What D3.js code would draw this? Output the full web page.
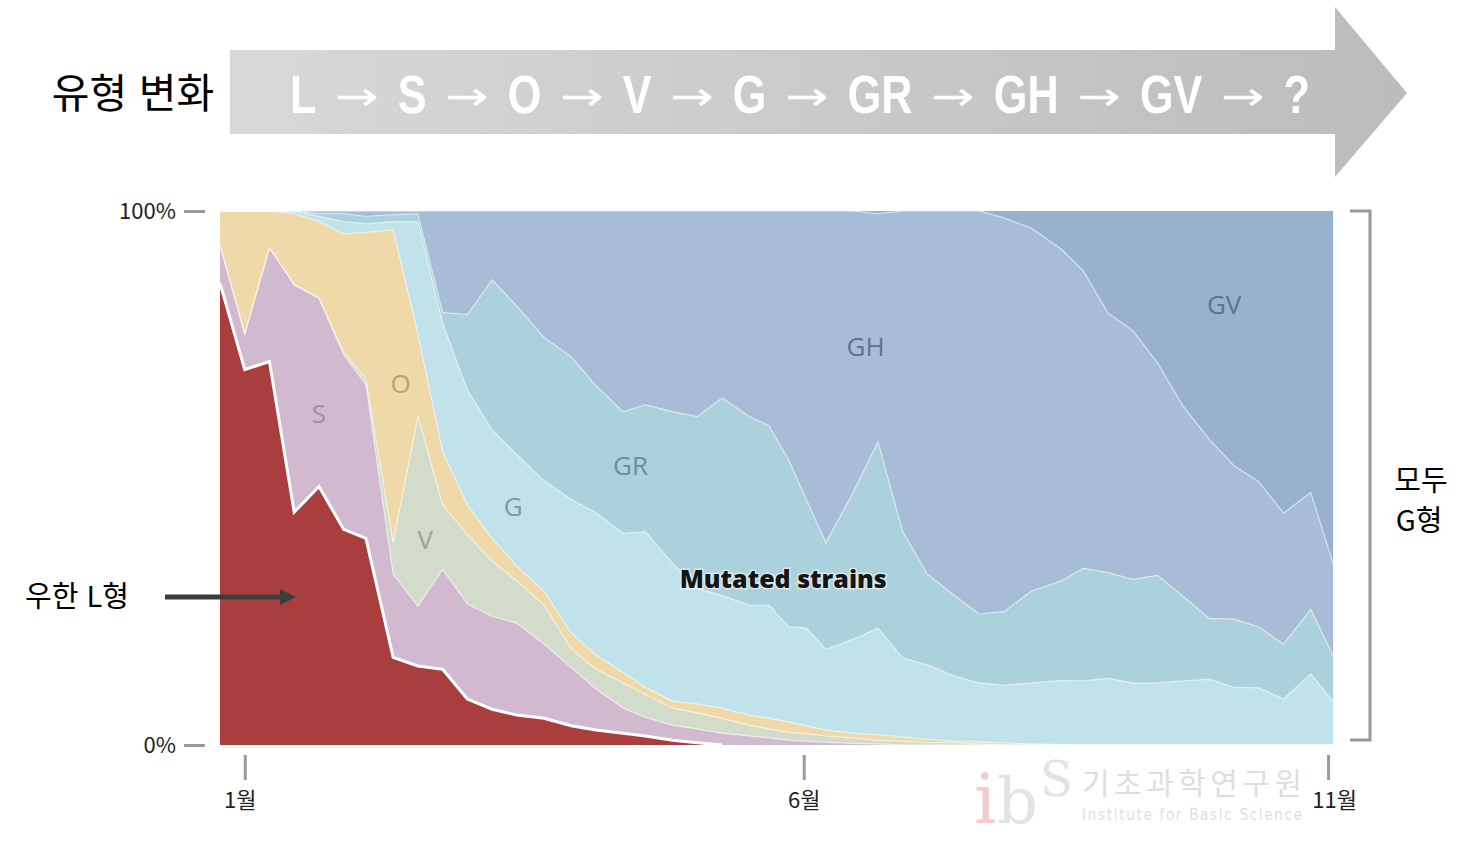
<!DOCTYPE html>
<html lang="ko">
<head>
<meta charset="utf-8">
<title>유형 변화</title>
<script src="https://cdn.jsdelivr.net/npm/d3@7"></script>
<style>
  body { margin: 0; background: #fff; }
  svg { display: block; }
</style>
</head>
<body>
<div id="chart"></div>
<script>
// sample points, in weeks from the start of the series
const weeks = [0, 1, 2, 3, 4, 5, 5.9, 7, 8, 9, 10, 11, 12, 13.1, 14.2, 15.2, 16.3, 17.2, 18.3, 19.3,
  20.3, 21.4, 22.2, 23, 23.7, 24.5, 25.6, 26.6, 27.6, 28.6, 29.7, 30.7, 31.7, 32.8, 34, 34.9,
  35.9, 36.9, 37.9, 38.9, 40, 41, 42, 43, 44.1, 45];

// share of each strain (%)
const shareL = [86.5, 70.3, 71.8, 43.6, 48.4, 40.4, 38.7, 16.4, 14.8, 14.2, 8.6, 6.7, 5.6, 5.0, 3.6,
  2.8, 2.2, 1.7, 0.9, 0.4, 0, 0, 0, 0, 0, 0, 0, 0, 0, 0, 0, 0, 0, 0, 0, 0, 0, 0, 0, 0, 0, 0, 0, 0, 0, 0];
const shareS = [7.1, 6.7, 21.3, 42.6, 35.3, 32.7, 28.8, 15.6, 11.2, 18.7, 17.8, 17.4, 17.2, 13.9, 10.9,
  7.7, 4.7, 3.5, 2.8, 2.6, 2.2, 1.7, 1.3, 0.9, 0.7, 0.5, 0.3, 0.2, 0, 0, 0, 0, 0, 0, 0, 0, 0, 0, 0, 0, 0, 0, 0, 0, 0, 0];
const shareV = [0, 0, 0, 0, 0, 0.5, 1, 5.9, 35.5, 12.1, 13, 10.3, 7.9, 7.3, 3.5,
  3.7, 4.7, 4.3, 3.2, 3.0, 2.8, 2.0, 1.7, 1.5, 1.4, 1.2, 1.0, 0.7, 0.7, 0.5, 0.4, 0.2, 0, 0, 0, 0, 0, 0, 0, 0, 0, 0, 0, 0, 0, 0];
const shareO = [6.4, 23, 6.9, 13.3, 14.3, 22.1, 27.5, 58.6, 15.5, 10, 5.6, 4.3, 2.8, 2.6, 3.0,
  2.6, 2.0, 1.3, 1.3, 1.7, 1.9, 1.9, 2.0, 1.9, 1.5, 1.1, 0.9, 1.0, 0.8, 0.6, 0.3, 0.4, 0.4, 0.2, 0.1, 0, 0, 0, 0, 0, 0, 0, 0, 0, 0, 0];
const shareG = [0, 0, 0, 0.5, 1, 2.3, 1.6, 1.5, 21, 24, 21.5, 20.3, 20.9, 20.7, 25,
  26.7, 26, 29.2, 25.8, 21.6, 21.1, 20.6, 21.2, 17.8, 18.3, 15.1, 17.6, 20, 14.8, 13.9,
  12.2, 11.0, 10.8, 11.4, 12, 12, 12.5, 11.6, 11.6, 12, 12.3, 10.8, 10.7, 8.6, 13.3, 8.2];
const shareGR = [0, 0, 0, 0, 0.5, 1.5, 1.4, 1.3, 1.5, 2, 14.1, 28.1, 27.8, 26.8, 26.7,
  23.8, 22.8, 23.7, 28.4, 32.2, 37, 35.3, 33.6, 31.2, 24.1, 20, 27.5, 34.9, 23.7, 17,
  15.1, 12.9, 13.8, 17.2, 18.6, 21.1, 19.8, 19.4, 20.2, 16, 11.4, 12.8, 11.4, 10.3, 12.1, 8.6];
const shareGH = [0, 0, 0, 0, 0.5, 0.5, 1, 0.7, 0.5, 19, 19.4, 12.9, 17.8, 23.7, 27.3,
  32.7, 37.6, 36.3, 37.6, 38.5, 35, 38.5, 40.2, 46.7, 54, 62.1, 52.7, 42.7, 60, 68,
  72, 75.5, 73.7, 68, 62.2, 55.7, 48.6, 46.6, 39.8, 35.7, 33.5, 28.7, 27.2, 24.5, 21.9, 17.2];
const shareGV = [0, 0, 0, 0, 0, 0, 0, 0, 0, 0, 0, 0, 0, 0, 0, 0, 0, 0, 0, 0, 0, 0, 0, 0, 0, 0, 0,
  0.5, 0, 0, 0, 0, 1.3, 3.2, 7.1, 11.2, 19.1, 22.4, 28.4, 36.3, 42.8, 47.7, 50.7, 56.6, 52.7, 66];

const strains = ["L", "S", "V", "O", "G", "GR", "GH", "GV"];
const strainShares = [shareL, shareS, shareV, shareO, shareG, shareGR, shareGH, shareGV];

const monthTicks = [1, 23.6, 44.8];
const monthLabels = ["1월", "6월", "11월"];
const flowTokens = ["L", "S", "O", "V", "G", "GR", "GH", "GV", "?"];

// in-chart labels (week, share)
const areaLabels = [
  { text: "S", week: 4.0, share: 0.62 },
  { text: "O", week: 7.3, share: 0.677 },
  { text: "V", week: 8.3, share: 0.385 },
  { text: "G", week: 11.85, share: 0.445 },
  { text: "GR", week: 16.6, share: 0.523 },
  { text: "GH", week: 26.1, share: 0.746 },
  { text: "GV", week: 40.6, share: 0.824 }
];

const colors = {
  L: "#a83e3e", S: "#d1bad0", V: "#d3dccb", O: "#f0d9a9",
  G: "#c0e2ea", GR: "#abd2dc", GH: "#a7bcd6", GV: "#98b2ce"
};
const labelColors = {
  S: "#a48ca5", O: "#b8a27c", V: "#9ca694", G: "#7b9ca7",
  GR: "#6b8e9b", GH: "#5d738f", GV: "#5d738f"
};

const width = 1472, height = 841;
const svg = d3.select("#chart").append("svg")
  .attr("width", width)
  .attr("height", height);

const x = d3.scaleLinear().domain([0, 45]).range([220, 1333]);
const y = d3.scaleLinear().domain([0, 1]).range([745, 211]);

// table for the stack
const table = weeks.map((w, i) => {
  const row = { week: w };
  strains.forEach((s, k) => row[s] = strainShares[k][i]);
  return row;
});
const series = d3.stack().keys(strains).offset(d3.stackOffsetExpand)(table);

// banner arrow on top
const defs = svg.append("defs");
const grad = defs.append("linearGradient").attr("id", "bannerGrad");
grad.append("stop").attr("offset", "0%").attr("stop-color", "#d8d8d8");
grad.append("stop").attr("offset", "100%").attr("stop-color", "#bcbcbc");

const banner = svg.append("g");
banner.append("path")
  .attr("d", "M230,50 L1335,50 L1335,7 L1407,93 L1335,177 L1335,134 L230,134 Z")
  .attr("fill", "url(#bannerGrad)");

// tokens placed one after another, gaps spread evenly; letters condensed, arrows stretched
const items = [];
flowTokens.forEach((t, i) => {
  items.push({ text: t, arrow: false });
  if (i < flowTokens.length - 1) items.push({ text: "→", arrow: true });
});
const sx = d => d.arrow ? 1.3 : 0.8;
const tokenText = banner.append("g").selectAll("text")
  .data(items)
  .join("text")
  .text(d => d.text)
  .attr("y", d => d.arrow ? 110 : 113)
  .attr("fill", "#fff")
  .style("font-family", d => d.arrow ? "'DejaVu Sans', sans-serif" : "'Liberation Sans', Arial, sans-serif")
  .style("font-weight", d => d.arrow ? 400 : 700)
  .style("font-size", d => d.arrow ? "40px" : "54px");
const widths = tokenText.nodes().map((n, i) => n.getComputedTextLength() * sx(items[i]));
const gap = (1310 - 290 - d3.sum(widths)) / (items.length - 1);
let cursor = 290;
tokenText.attr("transform", (d, i) => {
  const pos = cursor;
  cursor += widths[i] + gap;
  return `translate(${pos},0) scale(${sx(d)},1)`;
});

svg.append("text")
  .attr("x", 133).attr("y", 108)
  .attr("text-anchor", "middle")
  .style("font-family", "'Noto Sans CJK KR', sans-serif")
  .style("font-size", "41px")
  .text("유형 변화");

// stacked areas
const area = d3.area()
  .x(d => x(d.data.week))
  .y0(d => y(d[0]))
  .y1(d => y(d[1]));

svg.append("g")
  .selectAll("path")
  .data(series)
  .join("path")
  .attr("d", area)
  .attr("fill", d => colors[d.key]);

// faint boundaries between layers
const topLine = d3.line()
  .x(d => x(d.data.week))
  .y(d => y(d[1]));
svg.append("g")
  .selectAll("path")
  .data(series.filter(s => s.key !== "GV" && s.key !== "L"))
  .join("path")
  .attr("d", topLine)
  .attr("fill", "none")
  .attr("stroke", "#fff")
  .attr("stroke-opacity", 0.45)
  .attr("stroke-width", 1.4);

// white edge on top of the L area
const lastL = d3.max(shareL.map((v, i) => v > 0 ? i : -1)) + 1;
svg.append("path")
  .datum(series[0])
  .attr("d", topLine.defined((d, i) => i <= lastL))
  .attr("fill", "none")
  .attr("stroke", "#fff")
  .attr("stroke-width", 3)
  .attr("stroke-linejoin", "miter");

// labels inside the areas
svg.append("g")
  .selectAll("text")
  .data(areaLabels)
  .join("text")
  .attr("x", d => x(d.week))
  .attr("y", d => y(d.share))
  .attr("dy", "0.35em")
  .attr("text-anchor", "middle")
  .attr("fill", d => labelColors[d.text])
  .style("font-family", "'Open Sans', 'Lato', sans-serif")
  .style("font-size", "26px")
  .text(d => d.text);

svg.append("text")
  .attr("x", x(22.77)).attr("y", y(0.31))
  .attr("dy", "0.35em")
  .attr("text-anchor", "middle")
  .attr("fill", "#151515")
  .attr("stroke", "#fff")
  .attr("stroke-opacity", 0.5)
  .attr("stroke-width", 3)
  .style("paint-order", "stroke")
  .style("font-family", "'Open Sans', sans-serif")
  .style("font-weight", 800)
  .style("font-size", "25px")
  .text("Mutated strains");

// axes
const yAxis = svg.append("g")
  .attr("transform", "translate(205,0)")
  .call(d3.axisLeft(y).tickValues([0, 1]).tickFormat(d3.format(".0%")).tickSize(21).tickPadding(8));
const xAxis = svg.append("g")
  .attr("transform", "translate(0,755)")
  .call(d3.axisBottom(x).tickValues(monthTicks).tickFormat((d, i) => monthLabels[i]).tickSize(25).tickPadding(12));
[yAxis, xAxis].forEach(ax => {
  ax.select(".domain").remove();
  ax.selectAll(".tick line").attr("stroke", "#9a9a9a").attr("stroke-width", 3);
  ax.selectAll(".tick text")
    .attr("fill", "#222")
    .style("font-family", "'Noto Sans CJK KR', sans-serif")
    .style("font-size", "22px");
});
xAxis.selectAll(".tick text").attr("dx", (d, i) => [-5, 0, 6][i]);

// bracket on the right
svg.append("path")
  .attr("d", `M1350,${y(1)} H1370 V${y(0) - 5} H1350`)
  .attr("fill", "none")
  .attr("stroke", "#9a9a9a")
  .attr("stroke-width", 3);

const note = svg.append("text")
  .attr("x", 1421).attr("y", 491)
  .attr("text-anchor", "middle")
  .style("font-family", "'Noto Sans CJK KR', sans-serif")
  .style("font-size", "29px");
note.append("tspan").attr("x", 1421).text("모두");
note.append("tspan").attr("x", 1419).attr("dy", 40).text("G형");

// Wuhan L type pointer
svg.append("text")
  .attr("x", 77).attr("y", 607)
  .attr("text-anchor", "middle")
  .style("font-family", "'Noto Sans CJK KR', sans-serif")
  .style("font-size", "29px")
  .text("우한 L형");
svg.append("line")
  .attr("x1", 165).attr("x2", 282)
  .attr("y1", 597).attr("y2", 597)
  .attr("stroke", "#3c3c3c")
  .attr("stroke-width", 5);
svg.append("path")
  .attr("d", "M280,589 L296,597 L280,605 Z")
  .attr("fill", "#3c3c3c");

// faint watermark, logo letters kept apart
const wm = svg.append("g");
wm.append("text").attr("x", 974).attr("y", 823)
  .attr("fill", "#f5cccc")
  .style("font-family", "'DejaVu Serif', serif").style("font-size", "70px")
  .text("i");
wm.append("text").attr("x", 997).attr("y", 823)
  .attr("fill", "#e3e3e3")
  .style("font-family", "'DejaVu Serif', serif").style("font-size", "64px")
  .text("b");
wm.append("text").attr("x", 1040).attr("y", 796)
  .attr("fill", "#e3e3e3")
  .style("font-family", "'DejaVu Serif', serif").style("font-size", "48px")
  .text("S");
wm.append("text").attr("x", 1082).attr("y", 794)
  .attr("fill", "#dedede")
  .attr("textLength", 220)
  .style("font-family", "'Noto Sans CJK KR', sans-serif").style("font-size", "30px")
  .text("기초과학연구원");
wm.append("text").attr("x", 1082).attr("y", 820)
  .attr("fill", "#dedede")
  .attr("textLength", 220)
  .style("font-family", "'Liberation Sans Narrow', 'DejaVu Sans Condensed', sans-serif")
  .style("font-size", "15px")
  .text("Institute for Basic Science");
</script>
</body>
</html>
